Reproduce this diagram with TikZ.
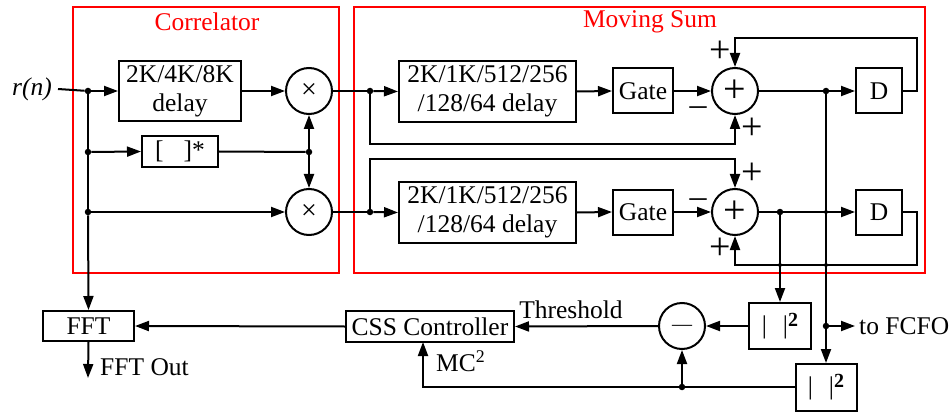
\documentclass[tikz,border=0pt]{standalone}
\usepackage{fontspec}
\setmainfont{Liberation Serif}
\usetikzlibrary{arrows.meta}
\begin{document}
\begin{tikzpicture}[x=1pt,y=-1pt,
  every node/.style={font=\fontsize{25.5}{29}\selectfont},
  blk/.style={draw,line width=2pt,inner sep=0pt,align=center},
  circ/.style={circle,draw,line width=2pt,minimum size=46pt,inner sep=0pt},
  jdot/.style={circle,fill,inner sep=0pt,minimum size=6.5pt},
  xdot/.style={circle,fill,inner sep=0pt,minimum size=4pt},
  lbl/.style={inner sep=0pt},
  plus/.style={inner sep=0pt,anchor=base,font=\fontsize{38}{38}\selectfont},
  minus/.style={inner sep=0pt,anchor=base,font=\fontsize{34}{34}\selectfont},
  redbox/.style={draw=red,line width=2pt},
  arr/.style={-{Triangle[length=14pt,width=10pt]}},
  wire/.style={line width=2pt}
]
\useasboundingbox (0,0) rectangle (952,414);

% red boxes
\draw[redbox] (73,7) rectangle (339,273);
\draw[redbox] (354,7) rectangle (925,273);
\node[lbl,text=red] (tc) at (207,22) {Correlator};
\node[lbl,text=red] (tm) at (650,22) {Moving Sum};

% correlator
\node[lbl,anchor=east] (rn) at (52,89) {\textit{r(n)}};
\node[blk,minimum width=122pt,minimum height=60pt] (d1) at (180,91) {2K/4K/8K\\delay};
\node[blk,minimum width=76pt,minimum height=31pt] (cj) at (180,151.5) {[\hspace{20pt}]*};
\node[circ] (m1) at (309,91) {\fontsize{28}{28}\selectfont ×};
\node[circ] (m2) at (309,212) {\fontsize{28}{28}\selectfont ×};
\node[jdot] (j1) at (88,91) {};
\node[jdot] (j2) at (88,152) {};
\node[jdot] (j3) at (88,212) {};
\node[jdot] (j4) at (309,152) {};

% moving sum
\node[jdot] (j5) at (370,91) {};
\node[jdot] (j6) at (370,212) {};
\node[blk,minimum width=177pt,minimum height=61pt] (d2) at (487.5,91.5) {2K/1K/512/256\\/128/64 delay};
\node[blk,minimum width=177pt,minimum height=61pt] (d3) at (487.5,212.5) {2K/1K/512/256\\/128/64 delay};
\node[blk,minimum width=60pt,minimum height=45pt] (g1) at (643,91) {Gate};
\node[blk,minimum width=60pt,minimum height=45pt] (g2) at (643,212) {Gate};
\node[circ] (a1) at (735,91) {\fontsize{40}{40}\selectfont +};
\node[circ] (a2) at (735,212) {\fontsize{40}{40}\selectfont +};
\node[blk,minimum width=46pt,minimum height=45pt] (D1) at (879,91) {D};
\node[blk,minimum width=46pt,minimum height=45pt] (D2) at (879,212) {D};
\node[jdot] (j7) at (826,91) {};
\node[jdot] (j8) at (780,212) {};
\node[xdot] (x1) at (826,212) {};
\node[xdot] (x2) at (780,265) {};
\node[xdot] (x3) at (826,265) {};
\coordinate (t1) at (917,38);
\coordinate (t2) at (917,265);
\coordinate (k1) at (370,144);
\coordinate (k2) at (370,159);

\node[plus] (s1) at (720,62.6) {+};
\node[minus] (s2) at (698,116) {–};
\node[plus] (s3) at (752,139.6) {+};
\node[plus] (s4) at (752,184.6) {+};
\node[minus] (s5) at (698,207) {–};
\node[plus] (s6) at (720,259.6) {+};

% bottom part
\node[blk,minimum width=91pt,minimum height=30pt] (fft) at (88.5,326) {FFT};
\node[blk,minimum width=168pt,minimum height=31pt] (css) at (430,326.5) {CSS Controller};
\node[circ] (mc) at (682,326) {\fontsize{20}{20}\selectfont\raisebox{-4.6pt}[0pt][0pt]{—}};
\node[blk,minimum width=62pt,minimum height=46pt] (sq1) at (780,326) {|\hspace{16pt}|\raisebox{7pt}{\fontsize{20}{20}\selectfont\textbf{2}}};
\node[blk,minimum width=61pt,minimum height=47pt] (sq2) at (826,387.5) {|\hspace{16pt}|\raisebox{7pt}{\fontsize{20}{20}\selectfont\textbf{2}}};
\node[jdot] (j9) at (826,326) {};
\node[jdot] (j10) at (682,387) {};
\coordinate (fo) at (88,378);
\coordinate (fc) at (855,326);
\coordinate (cin) at (423,342);
\node[lbl,anchor=west] (fftout) at (100,367) {FFT Out};
\node[lbl,anchor=west] (tofcfo) at (859,326) {to FCFO};
\node[lbl] (thr) at (571,310) {Threshold};
\node[lbl,anchor=west] (mc2) at (436,361) {MC\textsuperscript{2}};

% wires correlator
\draw[wire] ([xshift=6pt]rn.east) -- (j1);
\draw[wire,arr] (j1) -- (d1.west);
\draw[wire,arr] (d1.east) -- (m1.west);
\draw[wire] (j1) -- (j2) -- (j3);
\draw[wire,arr] (j3) -- (fft.north);
\draw[wire,arr] (j2) -- (cj.west);
\draw[wire] (cj.east) -- (j4);
\draw[wire,arr] (j4) -- (m1.south);
\draw[wire,arr] (j4) -- (m2.north);
\draw[wire,arr] (j3) -- (m2.west);

% wires moving sum
\draw[wire] (m1.east) -- (j5);
\draw[wire,arr] (j5) -- (d2.west);
\draw[wire] (m2.east) -- (j6);
\draw[wire,arr] (j6) -- (d3.west);
\draw[wire,arr] (d2.east) -- (g1.west);
\draw[wire,arr] (d3.east) -- (g2.west);
\draw[wire,arr] (g1.east) -- (a1.west);
\draw[wire,arr] (g2.east) -- (a2.west);
\draw[wire] (a1.east) -- (j7);
\draw[wire,arr] (j7) -- (D1.west);
\draw[wire] (a2.east) -- (j8);
\draw[wire,arr] (j8) -- (D2.west);
\draw[wire,arr] (D1.east) -| (t1) -| (a1.north);
\draw[wire,arr] (D2.east) -| (t2) -| (a2.south);
\draw[wire,arr] (j5) -- (k1) -| (a1.south);
\draw[wire,arr] (j6) -- (k2) -| (a2.north);

% wires bottom
\draw[wire] (j7) -- (j9);
\draw[wire,arr] (j9) -- (sq2.north);
\draw[wire,arr] (j9) -- (fc);
\draw[wire,arr] (j8) -- (sq1.north);
\draw[wire,arr] (sq1.west) -- (mc.east);
\draw[wire,arr] (mc.west) -- (css.east);
\draw[wire,arr] (css.west) -- (fft.east);
\draw[wire,arr] (fft.south) -- (fo);
\draw[wire] (sq2.west |- j10) -- (j10);
\draw[wire,arr] (j10) -- (mc.south);
\draw[wire,arr] (j10) -| (cin);
\end{tikzpicture}
\end{document}
